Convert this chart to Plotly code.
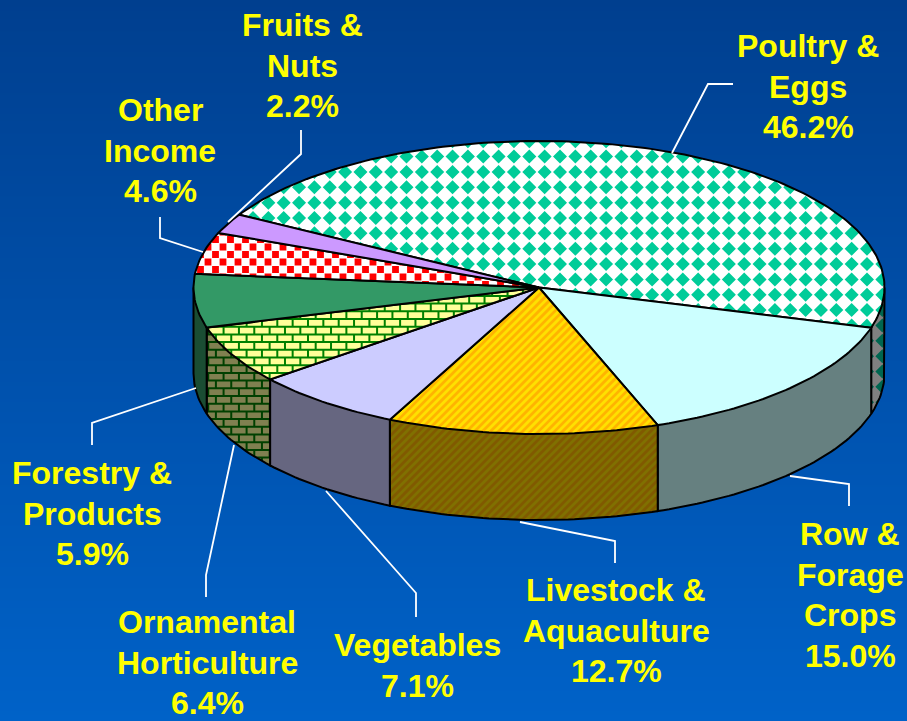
import numpy as np
import plotly.graph_objects as go

# chart data
categories = ["Poultry & Eggs", "Row & Forage Crops", "Livestock & Aquaculture", "Vegetables",
              "Ornamental Horticulture", "Forestry & Products", "Other Income", "Fruits & Nuts"]
values = [46.2, 15.0, 12.7, 7.1, 6.4, 5.9, 4.6, 2.2]
label_lines = [["Poultry &", "Eggs"], ["Row &", "Forage", "Crops"], ["Livestock &", "Aquaculture"],
               ["Vegetables"], ["Ornamental", "Horticulture"], ["Forestry &", "Products"],
               ["Other", "Income"], ["Fruits &", "Nuts"]]

# pie geometry, in page pixels
W, H = 907, 721
CX, CY, RX, RY, DEPTH = 539, 287.5, 345.5, 146.5, 86
START_DEG = 209.8

# label anchor (centre x, first line y), leader line
label_pos = [(808, 46), (850, 534), (616, 590), (417, 645), (207, 622), (92, 473), (160, 110), (302, 25)]
LINE_PITCH = 40.6
leaders = [
    [(672, 153), (708, 84), (733, 84)],
    [(790, 476), (849, 484), (849, 506)],
    [(520, 522), (615, 541), (615, 563)],
    [(326, 491), (416, 593), (416, 617)],
    [(234, 445), (206, 575), (206, 597)],
    [(196, 388), (92, 423), (92, 445)],
    [(203, 252), (160, 238), (160, 217)],
    [(228, 222), (301, 154), (301, 130)],
]


def pt(deg, dy=0):
    t = np.radians(deg)
    return (CX + RX * np.cos(t), CY + RY * np.sin(t) + dy)


def arc(a0, a1, dy=0):
    n = max(2, int(abs(a1 - a0)) + 1)
    return [pt(a, dy) for a in np.linspace(a0, a1, n)]


def clip(poly, region):
    # Sutherland-Hodgman, region must be convex
    xs, ys = zip(*region)
    area = sum(xs[i - 1] * ys[i] - xs[i] * ys[i - 1] for i in range(len(xs)))
    sign = 1 if area > 0 else -1
    out = poly
    for i in range(len(region)):
        ax, ay = region[i - 1]
        bx, by = region[i]
        if ax == bx and ay == by:
            continue
        side = lambda p: sign * ((bx - ax) * (p[1] - ay) - (by - ay) * (p[0] - ax))
        cur, out = out, []
        for j in range(len(cur)):
            p, q = cur[j - 1], cur[j]
            sp, sq = side(p), side(q)
            if (sp >= 0) != (sq >= 0):
                k = sp / (sp - sq)
                out.append((p[0] + k * (q[0] - p[0]), p[1] + k * (q[1] - p[1])))
            if sq >= 0:
                out.append(q)
        if not out:
            return []
    return out


def bbox(region):
    xs, ys = zip(*region)
    return min(xs), max(xs), min(ys), max(ys)


def diamonds(region, p=15.35, half=7.0, ox=590.7, oy=187.3):
    x0, x1, y0, y1 = bbox(region)
    tiles = []
    for r in range(int((y0 - oy) // p) - 1, int((y1 - oy) // p) + 2):
        for c in range(int((x0 - ox) // p) - 1, int((x1 - ox) // p) + 2):
            x, y = ox + c * p, oy + r * p
            tiles.append([(x - half, y), (x, y - half), (x + half, y), (x, y + half)])
    return tiles


def squares(region, px=15.0, py=7.5, half=3.4, ox=283, oy=262):
    x0, x1, y0, y1 = bbox(region)
    tiles = []
    for r in range(int((y0 - oy) // py) - 1, int((y1 - oy) // py) + 2):
        shift = px / 2 if r % 2 else 0
        for c in range(int((x0 - ox) // px) - 1, int((x1 - ox) // px) + 2):
            x, y = ox + c * px + shift, oy + r * py
            tiles.append([(x - half, y - half), (x + half, y - half), (x + half, y + half), (x - half, y + half)])
    return tiles


def bricks(region, px=15.35, py=7.7, gap=1.0, ox=308, oy=319):
    x0, x1, y0, y1 = bbox(region)
    tiles = []
    for r in range(int((y0 - oy) // py) - 1, int((y1 - oy) // py) + 2):
        shift = px / 2 if r % 2 else 0
        for c in range(int((x0 - ox) // px) - 1, int((x1 - ox) // px) + 2):
            x, y = ox + c * px + shift, oy + r * py
            tiles.append([(x + gap, y + gap), (x + px - gap, y + gap), (x + px - gap, y + py - gap), (x + gap, y + py - gap)])
    return tiles


def stripes(region, period=8.0):
    x0, x1, y0, y1 = bbox(region)
    tiles = []
    for c in range(int((x0 + y0) // period) - 1, int((x1 + y1) // period) + 2):
        s = c * period
        # lines x + y = const run lower left to upper right
        tiles.append([(s - y0, y0), (s + period / 2 - y0, y0), (s + period / 2 - y1, y1), (s - y1, y1)])
    return tiles


# base colour, pattern colour, pattern builder: top face then side face
styles = [
    (("#FFFFFF", "#00CC99", diamonds), ("#808080", "#006650", diamonds)),
    (("#CCFFFF", None, None), ("#668080", None, None)),
    (("#FFE000", "#FFB400", stripes), ("#807000", "#805A00", stripes)),
    (("#CCCCFF", None, None), ("#666680", None, None)),
    (("#FFFF99", "#008000", bricks), ("#808050", "#004000", bricks)),
    (("#339966", None, None), ("#1A4D33", None, None)),
    (("#FFFFFF", "#FF0000", squares), ("#808080", "#800000", squares)),
    (("#CC99FF", None, None), ("#664D80", None, None)),
]


def poly_xy(polys):
    xs, ys = [], []
    for p in polys:
        xs += [q[0] for q in p] + [p[0][0], None]
        ys += [q[1] for q in p] + [p[0][1], None]
    return xs, ys


def add_fill(fig, polys, color):
    xs, ys = poly_xy(polys)
    fig.add_trace(go.Scatter(x=xs, y=ys, mode="lines", fill="toself", fillcolor=color,
                             line=dict(width=0), hoverinfo="skip", showlegend=False))


def add_outline(fig, pts, closed=False):
    pts = list(pts) + ([pts[0]] if closed else [])
    fig.add_trace(go.Scatter(x=[p[0] for p in pts], y=[p[1] for p in pts], mode="lines",
                             line=dict(color="black", width=2), hoverinfo="skip", showlegend=False))


def add_face(fig, region, style):
    base, pat, builder = style
    add_fill(fig, [region], base)
    if builder:
        polys = [clip(t, region) for t in builder(region)]
        polys = [p for p in polys if len(p) > 2]
        # brick builder draws the bricks themselves, mortar is the pattern colour
        if builder is bricks:
            add_fill(fig, [region], pat)
            add_fill(fig, polys, base)
        elif polys:
            add_fill(fig, polys, pat)


fig = go.Figure()

# background gradient
fig.add_trace(go.Heatmap(x=[0, W], y=[0, H], z=[[0, 0], [1, 1]], zsmooth="best", showscale=False,
                         colorscale=[[0, "#003F8F"], [1, "#0062C8"]], hoverinfo="skip"))

# wedge angles, clockwise on screen
shares = np.array(values) / sum(values) * 360
edges = START_DEG + np.concatenate([[0], np.cumsum(shares)])

# side faces first, only the front half of the rim shows
for i in range(len(values)):
    s0, s1 = max(edges[i], 360), min(edges[i + 1], 540)
    if s0 >= s1:
        continue
    low = arc(s0, s1, DEPTH)
    region = [pt(s0)] + low + [pt(s1)]
    add_face(fig, region, styles[i][1])
    add_outline(fig, region)

# top faces
for i in range(len(values)):
    region = [(CX, CY)] + arc(edges[i], edges[i + 1])
    add_face(fig, region, styles[i][0])
    add_outline(fig, region, closed=True)

# leader lines
for pts in leaders:
    fig.add_trace(go.Scatter(x=[p[0] for p in pts], y=[p[1] for p in pts], mode="lines",
                             line=dict(color="white", width=1.8), hoverinfo="skip", showlegend=False))

# labels
annotations = []
for lines, val, (lx, ly) in zip(label_lines, values, label_pos):
    for k, txt in enumerate(lines + ["{:.1f}%".format(val)]):
        annotations.append(dict(x=lx, y=ly + k * LINE_PITCH, text="<b>{}</b>".format(txt), showarrow=False,
                                xanchor="center", yanchor="middle",
                                font=dict(family="Liberation Sans", size=32, color="#FFFF00")))

fig.update_layout(
    width=W, height=H, margin=dict(l=0, r=0, t=0, b=0), showlegend=False,
    paper_bgcolor="#0050A8", plot_bgcolor="#0050A8",
    xaxis=dict(range=[0, W], visible=False, fixedrange=True),
    yaxis=dict(range=[H, 0], visible=False, fixedrange=True),
    annotations=annotations,
)

fig.write_html("out.html", config=dict(displayModeBar=False),
               post_script="document.body.style.margin='0';document.body.style.overflow='hidden';")
